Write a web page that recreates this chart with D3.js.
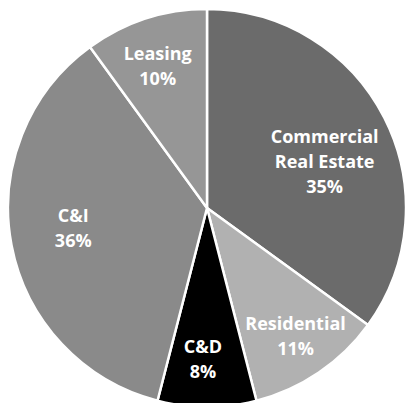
<!DOCTYPE html>
<html>
<head>
<meta charset="utf-8">
<script src="https://cdn.jsdelivr.net/npm/d3@7"></script>
<style>
  html, body { margin: 0; padding: 0; background: #fff; }
  svg { display: block; }
</style>
</head>
<body>
<svg id="chart" width="405" height="403"></svg>
<script>
const categories = ["Commercial Real Estate", "Residential", "C&D", "C&I", "Leasing"];
const labelLines = [["Commercial", "Real Estate"], ["Residential"], ["C&D"], ["C&I"], ["Leasing"]];
const values = [35, 11, 8, 36, 10];
const colors = ["#6b6b6b", "#b1b1b1", "#000000", "#8a8a8a", "#969696"];

// layout-only label nudges (pixels, relative to the arc centroid)
const labelNudge = [[-10, 19], [8, 10], [-4, 8], [7, -6], [-5, -5]];

const width = 405, height = 403;
const cx = 207, cy = 208, R = 199;

const svg = d3.select("#chart");
const g = svg.append("g").attr("transform", `translate(${cx},${cy})`);

const pie = d3.pie().value(d => d).sort(null);
const arcs = pie(values);
const arc = d3.arc().innerRadius(0).outerRadius(R);
const labelArc = d3.arc().innerRadius(R * 0.72).outerRadius(R * 0.72);

g.selectAll("path.slice")
  .data(arcs)
  .join("path")
  .attr("class", "slice")
  .attr("d", arc)
  .attr("fill", (d, i) => colors[i])
  .attr("stroke", "#ffffff")
  .attr("stroke-width", 2.5)
  .attr("stroke-linejoin", "round");

const lineH = 25;
g.selectAll("text.lbl")
  .data(arcs)
  .join("text")
  .attr("class", "lbl")
  .attr("text-anchor", "middle")
  .attr("fill", "#ffffff")
  .attr("font-family", "'Open Sans', sans-serif")
  .attr("font-weight", "bold")
  .attr("font-size", 18)
  .each(function(d, i) {
    const c = labelArc.centroid(d);
    const x = c[0] + labelNudge[i][0];
    const y = c[1] + labelNudge[i][1];
    const lines = labelLines[i].concat([values[i] + "%"]);
    const startY = y - (lines.length - 1) * lineH / 2 + 6;
    const t = d3.select(this);
    lines.forEach((ln, k) => {
      t.append("tspan").attr("x", x).attr("y", startY + k * lineH).text(ln);
    });
  });
</script>
</body>
</html>
